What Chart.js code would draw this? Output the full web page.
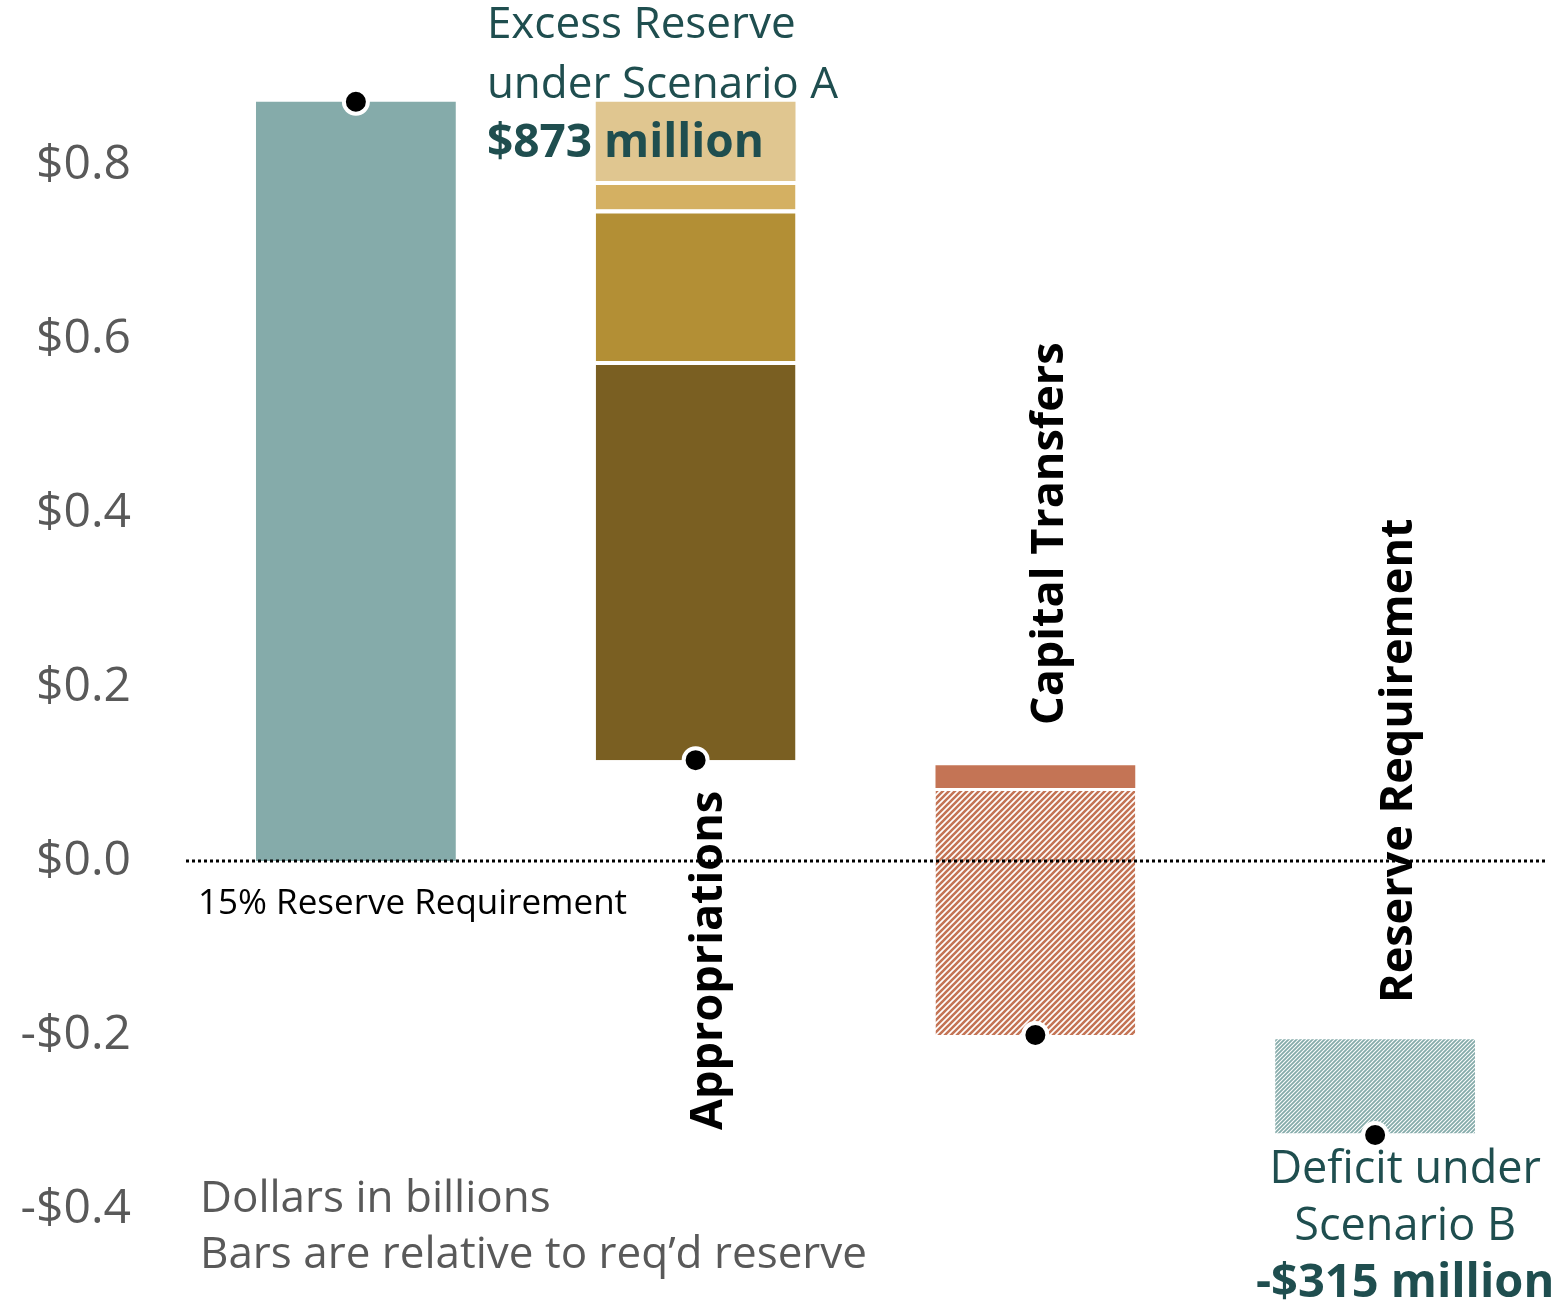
<!DOCTYPE html>
<html>
<head>
<meta charset="utf-8">
<script src="https://cdn.jsdelivr.net/npm/chart.js@4"></script>
<style>
  html, body { margin: 0; padding: 0; background: #fff; }
  #wrap { width: 1558px; height: 1302px; position: relative; }
</style>
</head>
<body>
<div id="wrap"><canvas id="reserveChart"></canvas></div>
<script>
// values in billions of dollars
const categories = ['15% Reserve Requirement', 'Appropriations', 'Capital Transfers', 'Reserve Requirement'];
const startBar = [0, 0.873];
const appropSteps = [0.116, 0.575, 0.749, 0.782, 0.873];   // segment edges, bottom to top
const capitalSteps = [-0.200, 0.084, 0.110];
const deficitBar = [-0.313, -0.205];
const markerValues = [0.873, 0.116, -0.200, -0.315];
const tickValues = [-0.4, -0.2, 0, 0.2, 0.4, 0.6, 0.8];

const FONT = "'Open Sans', 'Noto Sans', sans-serif";
const TEAL_TEXT = '#1f4e4f';

function hatch(color, size, lw) {
    const c = document.createElement('canvas');
    c.width = c.height = size;
    const g = c.getContext('2d');
    g.strokeStyle = color;
    g.lineWidth = lw;
    g.beginPath();
    g.moveTo(0, size); g.lineTo(size, 0);
    g.moveTo(-size / 2, size / 2); g.lineTo(size / 2, -size / 2);
    g.moveTo(size / 2, size * 1.5); g.lineTo(size * 1.5, size / 2);
    g.stroke();
    return g.createPattern(c, 'repeat');
}

// put a floating range into one category slot
function at(idx, range) {
    return categories.map((c, i) => i === idx ? range : null);
}

const gap = { top: 4, right: 0, bottom: 0, left: 0 };
const apColors = ['#7a5f22', '#b38f35', '#d4b062', '#e0c690'];

const barDefaults = {
    grouped: false,
    barPercentage: 0.588,
    categoryPercentage: 1,
    borderSkipped: false,
    borderColor: '#fff',
    borderWidth: 0,
    order: 1
};

const datasets = [
    { ...barDefaults, label: 'start', data: at(0, startBar), backgroundColor: '#85abaa' }
];
apColors.forEach((col, i) => {
    datasets.push({
        ...barDefaults,
        label: 'approp' + i,
        data: at(1, [appropSteps[i], appropSteps[i + 1]]),
        backgroundColor: col,
        borderWidth: i < apColors.length - 1 ? gap : 0
    });
});
datasets.push({ ...barDefaults, label: 'capital', data: at(2, [capitalSteps[1], capitalSteps[2]]), backgroundColor: '#c47455' });
datasets.push({ ...barDefaults, label: 'capitalHatch', data: at(2, [capitalSteps[0], capitalSteps[1]]),
    backgroundColor: hatch('#c47455', 6, 2.6), borderWidth: { top: 3, right: 0, bottom: 0, left: 0 } });
datasets.push({ ...barDefaults, label: 'deficit', data: at(3, deficitBar), backgroundColor: hatch('#85abaa', 4, 1.8) });
datasets.push({
    type: 'line',
    label: 'markers',
    data: markerValues,
    showLine: false,
    pointRadius: 12,
    pointHoverRadius: 12,
    pointBorderWidth: 4,
    pointBackgroundColor: '#000',
    pointBorderColor: '#fff',
    order: 0
});

const annotations = {
    id: 'annotations',
    afterDatasetsDraw(chart) {
        const { ctx, chartArea, scales: { y } } = chart;
        const y0 = y.getPixelForValue(0);
        // dotted zero line
        ctx.save();
        ctx.strokeStyle = '#000';
        ctx.lineWidth = 3;
        ctx.setLineDash([3, 3]);
        ctx.beginPath();
        ctx.moveTo(chartArea.left, y0);
        ctx.lineTo(chartArea.right, y0);
        ctx.stroke();
        ctx.restore();
    },
    afterDraw(chart) {
        const { ctx, chartArea, scales: { x, y } } = chart;
        const y0 = y.getPixelForValue(0);
        ctx.save();
        ctx.textAlign = 'left';
        ctx.textBaseline = 'alphabetic';

        // excess reserve note
        const xl = x.getPixelForValue(0) + 131;
        const yTop = y.getPixelForValue(startBar[1]);
        ctx.fillStyle = TEAL_TEXT;
        ctx.font = `44px ${FONT}`;
        ctx.fillText('Excess Reserve', xl, yTop - 64);
        ctx.fillText('under Scenario A', xl, yTop - 4);
        ctx.font = `bold 46px ${FONT}`;
        ctx.fillText('$' + Math.round(startBar[1] * 1000) + ' million', xl, yTop + 55);

        // deficit note
        const xc = x.getPixelForValue(3) + 30;
        const yDef = y.getPixelForValue(markerValues[3]);
        ctx.textAlign = 'center';
        ctx.font = `45px ${FONT}`;
        ctx.fillText('Deficit under', xc, yDef + 48);
        ctx.fillText('Scenario B', xc, yDef + 105);
        ctx.font = `bold 47px ${FONT}`;
        ctx.fillText('-$' + Math.round(-markerValues[3] * 1000) + ' million', xc, yDef + 162);

        // baseline label
        ctx.textAlign = 'left';
        ctx.fillStyle = '#000';
        ctx.font = `35px ${FONT}`;
        ctx.fillText(categories[0], chartArea.left + 12, y0 + 53);

        // units note
        ctx.fillStyle = '#595959';
        ctx.font = `44px ${FONT}`;
        ctx.fillText('Dollars in billions', chartArea.left + 14, y0 + 351);
        ctx.fillText('Bars are relative to req\u2019d reserve', chartArea.left + 14, y0 + 407);

        // rotated category labels
        const rotated = [
            { i: 1, dx: 26, yStart: y0 + 269 },
            { i: 2, dx: 28, yStart: y0 - 136 },
            { i: 3, dx: 37, yStart: y0 + 142 }
        ];
        ctx.fillStyle = '#000';
        ctx.font = `bold 45px ${FONT}`;
        rotated.forEach(r => {
            ctx.save();
            ctx.translate(x.getPixelForValue(r.i) + r.dx, r.yStart);
            ctx.rotate(-Math.PI / 2);
            ctx.fillText(categories[r.i], 0, 0);
            ctx.restore();
        });
        ctx.restore();
    }
};

new Chart(document.getElementById('reserveChart').getContext('2d'), {
    type: 'bar',
    data: { labels: categories, datasets: datasets },
    options: {
        responsive: true,
        maintainAspectRatio: false,
        animation: false,
        layout: { autoPadding: false, padding: { left: 0, right: 13, top: 0, bottom: 0 } },
        plugins: {
            legend: { display: false },
            tooltip: { enabled: false }
        },
        scales: {
            x: { display: false, offset: true },
            y: {
                min: -0.507,
                max: 0.99,
                grid: { display: false, drawTicks: false },
                border: { display: false },
                afterFit(scale) {
                    scale.width = 186;
                    scale.paddingTop = 0;
                    scale.paddingBottom = 0;
                },
                afterBuildTicks(scale) { scale.ticks = tickValues.map(v => ({ value: v })); },
                ticks: {
                    padding: 55,
                    color: '#595959',
                    font: { family: FONT, size: 48 },
                    callback: v => (v < 0 ? '-' : '') + '$' + Math.abs(v).toFixed(1)
                }
            }
        }
    },
    plugins: [annotations]
});
</script>
</body>
</html>
